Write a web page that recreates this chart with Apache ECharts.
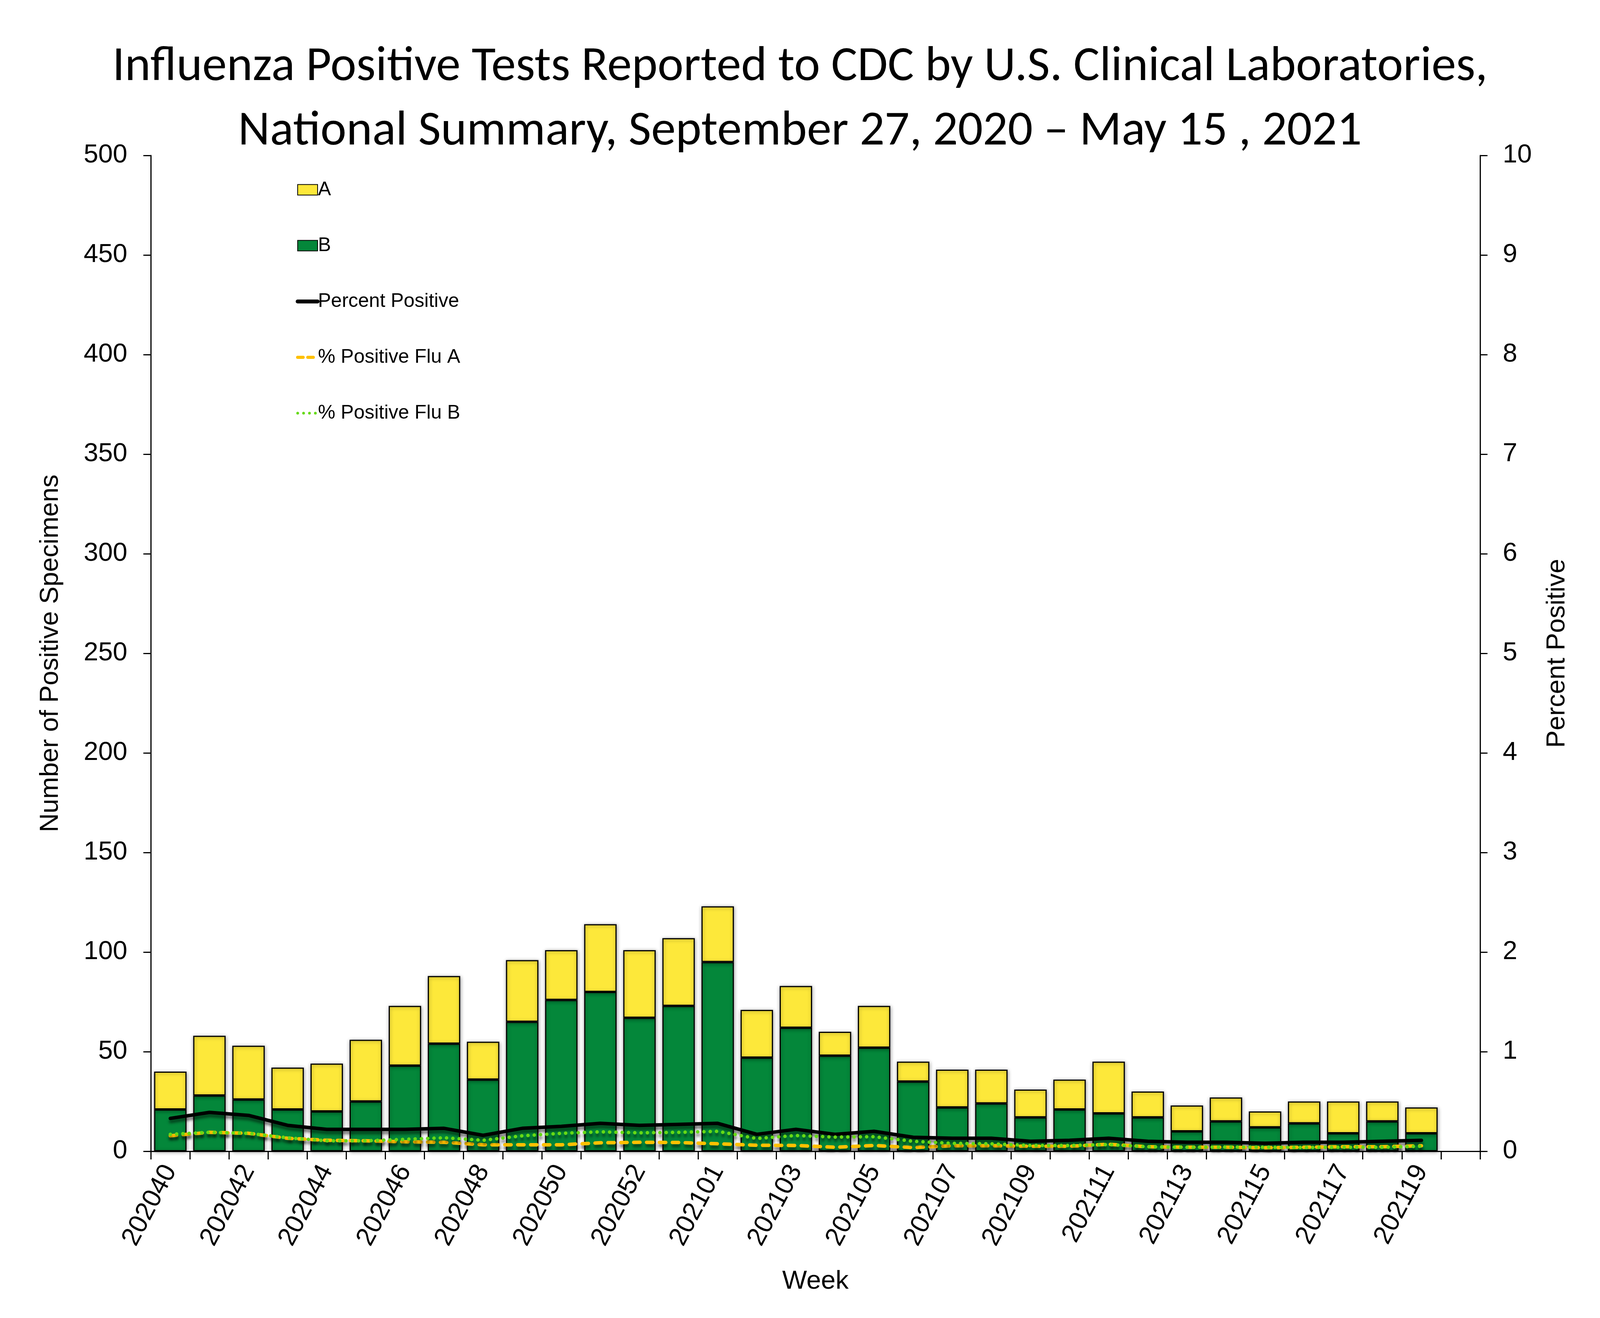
<!DOCTYPE html>
<html>
<head>
<meta charset="utf-8">
<script src="https://cdn.jsdelivr.net/npm/echarts@6/dist/echarts.min.js"></script>
<style>
html,body{margin:0;padding:0;background:#fff;overflow:hidden;}
#chart{width:100vw;height:100vh;}
</style>
</head>
<body>
<div id="chart"></div>
<script>
const weeks = ['202040','202041','202042','202043','202044','202045','202046','202047','202048','202049','202050','202051','202052','202053',
  '202101','202102','202103','202104','202105','202106','202107','202108','202109','202110','202111','202112','202113','202114','202115','202116','202117','202118','202119'];
const fluA = [19,30,27,21,24,31,30,34,19,31,25,34,34,34,28,24,21,12,21,10,19,17,14,15,26,13,13,12,8,11,16,10,13];
const fluB = [21,28,26,21,20,25,43,54,36,65,76,80,67,73,95,47,62,48,52,35,22,24,17,21,19,17,10,15,12,14,9,15,9];
const pctPositive = [0.33,0.39,0.36,0.26,0.22,0.22,0.22,0.23,0.16,0.23,0.25,0.28,0.26,0.27,0.28,0.17,0.22,0.17,0.20,0.14,0.13,0.13,0.10,0.11,0.13,0.10,0.09,0.09,0.08,0.09,0.09,0.10,0.11];
const pctFluA = [0.155,0.19,0.18,0.13,0.11,0.105,0.095,0.09,0.065,0.065,0.065,0.085,0.09,0.088,0.075,0.06,0.058,0.04,0.058,0.037,0.055,0.055,0.05,0.05,0.07,0.045,0.04,0.04,0.035,0.04,0.045,0.045,0.055];
const pctFluB = [0.17,0.19,0.18,0.135,0.105,0.105,0.12,0.135,0.11,0.155,0.18,0.195,0.185,0.19,0.2,0.128,0.158,0.142,0.146,0.10,0.079,0.075,0.058,0.058,0.067,0.045,0.04,0.042,0.04,0.038,0.04,0.04,0.05];

const FONT = '"Liberation Sans", Arial, sans-serif';
const chart = echarts.init(document.getElementById('chart'));
// layout is designed for 4500x3375 and scaled to the actual canvas
const sx = chart.getWidth() / 4500;
const sy = chart.getHeight() / 3375;
const sf = (sx + sy) / 2;
const X = v => Math.round(v * sx);
const Y = v => Math.round(v * sy);
const F = v => Math.round(v * sf);

const barShadow = {shadowColor:'rgba(0,0,0,0.35)', shadowBlur:10, shadowOffsetX:1, shadowOffsetY:2};
const lineShadow = {shadowColor:'rgba(0,0,0,0.5)', shadowBlur:6, shadowOffsetX:1, shadowOffsetY:8};
const noDot = {color:'rgba(0,0,0,0)', borderWidth:0};
const noShadow = {shadowBlur:0, shadowOffsetX:0, shadowOffsetY:0};
const rot = Math.round(Math.atan(Math.tan(60 * Math.PI / 180) / sx) * 180 / Math.PI);

chart.setOption({
  backgroundColor:'#ffffff',
  animation:false,
  title:{
    text:'Influenza Positive Tests Reported to CDC by U.S. Clinical Laboratories,\nNational Summary, September 27, 2020 \u2013 May 15 , 2021',
    left:'center', top:Y(86),
    textStyle:{fontFamily:'Carlito, Lato, sans-serif', fontWeight:'normal', fontSize:Math.round(138 * sx), lineHeight:Y(165), color:'#000', align:'center'}
  },
  legend:{
    orient:'vertical', left:X(826), top:Y(451),
    itemWidth:X(56), itemHeight:Y(27), itemGap:Y(83),
    textStyle:{fontFamily:FONT, fontSize:F(52), color:'#000', lineHeight:Y(60), padding:[0,0,0,-4]},
    data:[
      {name:'A', icon:'rect'},
      {name:'B', icon:'rect'},
      {name:'Percent Positive', itemStyle:noDot, lineStyle:Object.assign({color:'#000', width:10, cap:'round'}, noShadow)},
      {name:'% Positive Flu A', itemStyle:noDot, lineStyle:Object.assign({color:'#FFC000', width:8, type:[14,12], cap:'round'}, noShadow)},
      {name:'% Positive Flu B', itemStyle:noDot, lineStyle:Object.assign({color:'#66D915', width:7, type:[0.1,15], cap:'round'}, noShadow)}
    ]
  },
  grid:{left:X(424), right:X(337), top:Y(398), bottom:Y(427), containLabel:false},
  xAxis:{
    type:'category',
    data:weeks.concat(['']),
    name:'Week', nameLocation:'middle', nameGap:Y(300),
    nameTextStyle:{fontFamily:FONT, fontSize:F(70), color:'#000'},
    axisLine:{lineStyle:{color:'#000', width:3}},
    axisTick:{show:true, length:Y(21), lineStyle:{color:'#000', width:3}, interval:0},
    axisLabel:{interval:1, rotate:rot, fontFamily:FONT, fontSize:F(70), color:'#000', margin:Y(40)},
    splitLine:{show:false}
  },
  yAxis:[{
    type:'value', min:0, max:500, interval:50,
    name:'Number of Positive Specimens', nameLocation:'middle', nameGap:X(245), nameRotate:90,
    nameTextStyle:{fontFamily:FONT, fontSize:F(70), color:'#000'},
    axisLine:{show:true, lineStyle:{color:'#000', width:3}},
    axisTick:{show:true, length:X(21), lineStyle:{color:'#000', width:3}},
    axisLabel:{fontFamily:FONT, fontSize:F(70), color:'#000', margin:X(66)},
    splitLine:{show:false}
  },{
    type:'value', min:0, max:10, interval:1, position:'right',
    name:'Percent Positive', nameLocation:'middle', nameGap:X(180), nameRotate:90,
    nameTextStyle:{fontFamily:FONT, fontSize:F(70), color:'#000'},
    axisLine:{show:true, lineStyle:{color:'#000', width:3}},
    axisTick:{show:true, length:X(21), lineStyle:{color:'#000', width:3}},
    axisLabel:{fontFamily:FONT, fontSize:F(70), color:'#000', margin:X(64)},
    splitLine:{show:false}
  }],
  series:[
    {name:'B', type:'bar', stack:'flu', data:fluB, barCategoryGap:'17%',
     itemStyle:Object.assign({color:'#04873A', borderColor:'#000', borderWidth:3}, barShadow)},
    {name:'A', type:'bar', stack:'flu', data:fluA, barCategoryGap:'17%',
     itemStyle:Object.assign({color:'#FDE83A', borderColor:'#000', borderWidth:3}, barShadow)},
    {name:'Percent Positive', type:'line', yAxisIndex:1, data:pctPositive, symbol:'none', z:5,
     itemStyle:{color:'#000'},
     lineStyle:Object.assign({color:'#000', width:9, cap:'round', join:'round'}, lineShadow)},
    {name:'% Positive Flu A', type:'line', yAxisIndex:1, data:pctFluA, symbol:'none', z:6,
     itemStyle:{color:'#FFC000'},
     lineStyle:Object.assign({color:'#FFC000', width:9, type:[16,17], cap:'round', join:'round'}, lineShadow)},
    {name:'% Positive Flu B', type:'line', yAxisIndex:1, data:pctFluB, symbol:'none', z:7,
     itemStyle:{color:'#66D915'},
     lineStyle:Object.assign({color:'#66D915', width:9, type:[0.1,16], cap:'round', join:'round'}, lineShadow)}
  ]
});
</script>
</body>
</html>
